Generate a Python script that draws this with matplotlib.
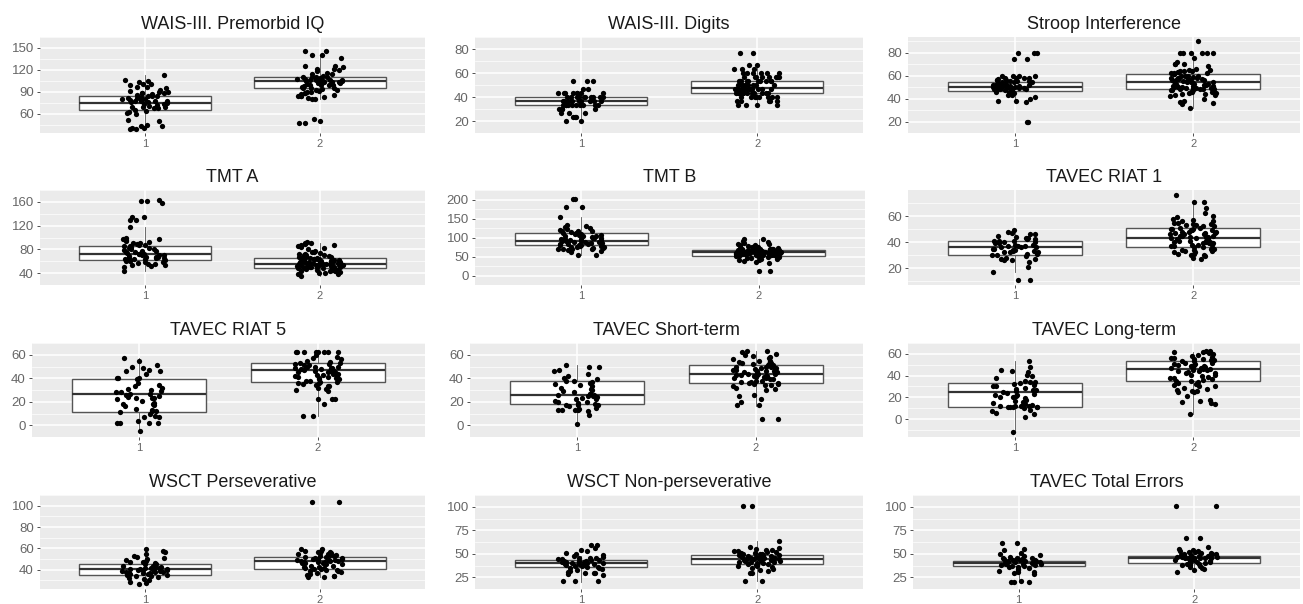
import matplotlib
matplotlib.use("Agg")
import matplotlib.pyplot as plt
import numpy as np

plt.rcParams["font.family"] = ["Liberation Sans", "DejaVu Sans"]

titles = ["WAIS-III. Premorbid IQ", "WAIS-III. Digits", "Stroop Interference",
          "TMT A", "TMT B", "TAVEC RIAT 1",
          "TAVEC RIAT 5", "TAVEC Short-term", "TAVEC Long-term",
          "WSCT Perseverative", "WSCT Non-perseverative", "TAVEC Total Errors"]
groups = ["1", "2"]

# points per group
iq_1 = [113, 106, 105, 104, 101, 101, 100, 97, 97, 95, 92, 91, 90, 90, 89, 88, 88, 87, 86, 85, 85, 84,
        83, 82, 82, 81, 80, 79, 79, 78, 78, 77, 77, 76, 76, 75, 74, 73, 72, 71, 70, 70, 69, 68, 68, 66,
        64, 62, 61, 60, 52, 51, 45, 44, 43, 41, 41, 40, 40]
iq_2 = [146, 146, 141, 140, 136, 125, 125, 124, 122, 121, 120, 118, 116, 115, 114, 112, 111, 110, 110,
        110, 109, 108, 108, 108, 107, 106, 106, 106, 105, 105, 105, 104, 104, 103, 103, 102, 102, 101,
        100, 100, 100, 99, 98, 97, 96, 95, 95, 94, 93, 92, 91, 90, 90, 89, 88, 87, 86, 85, 85, 84, 83,
        82, 81, 80, 53, 50, 48, 47]
dig_1 = [53.3, 53.3, 53.3, 46.7, 46.7] + [43.3] * 8 + [40] * 10 + [36.7] * 10 + [33.3] * 10 + \
        [30] * 4 + [26.7] * 3 + [23.3] * 3 + [20] * 2
dig_2 = [76.7, 76.7, 66.7, 66.7, 63.3, 63.3, 63.3] + [60] * 6 + [56.7] * 8 + [53.3] * 10 + [50] * 8 + \
        [46.7] * 12 + [43.3] * 12 + [40] * 8 + [36.7] * 5 + [33.3] * 4
str_1 = [80, 80, 80, 74, 74, 60, 60, 60, 60, 58, 58, 58, 58, 57, 56, 56, 56, 55, 55, 55, 54, 54, 54,
         53, 53, 53, 52, 52, 52, 52, 51, 51, 51, 51, 50, 50, 50, 50, 50, 49, 49, 49, 49, 48, 48, 48,
         47, 47, 47, 46, 46, 45, 43, 43, 41, 40, 38, 38, 37, 20, 20]
str_2 = [90, 80, 80, 80, 80, 80, 80, 75, 72, 70, 70, 70, 68, 66, 65, 65, 64, 64, 64, 63, 63, 62, 62,
         62, 61, 61, 60, 60, 60, 60, 59, 59, 58, 58, 58, 58, 57, 57, 57, 56, 56, 56, 55, 55, 55, 55,
         54, 54, 54, 54, 53, 53, 53, 52, 52, 52, 51, 51, 51, 51, 50, 50, 50, 50, 49, 49, 49, 49, 48,
         48, 48, 48, 47, 47, 47, 46, 46, 46, 45, 45, 44, 44, 43, 43, 42, 40, 38, 37, 36, 35, 32]
tmta_1 = [163, 162, 161, 158, 134, 134, 130, 129, 118, 99, 98, 97, 96, 94, 92, 91, 90, 89, 88, 87,
          86, 85, 84, 83, 82, 81, 80, 79, 78, 77, 76, 75, 74, 73, 73, 72, 71, 70, 70, 69, 68, 67, 67,
          66, 66, 65, 64, 64, 63, 62, 61, 60, 59, 58, 57, 56, 55, 54, 53, 52, 50, 43]
tmta_2 = [92, 91, 90, 89, 88, 87, 86, 85, 84, 82, 80, 78, 76, 75, 74, 73, 72, 71, 70, 70, 69, 68, 67,
          67, 66, 66, 65, 65, 64, 64, 63, 63, 62, 62, 62, 61, 61, 61, 60, 60, 60, 59, 59, 59, 58, 58,
          58, 57, 57, 57, 56, 56, 56, 56, 55, 55, 55, 55, 54, 54, 54, 54, 53, 53, 53, 53, 52, 52, 52,
          51, 51, 51, 50, 50, 50, 49, 49, 49, 48, 48, 48, 47, 47, 46, 46, 45, 45, 44, 44, 43, 42, 41,
          40, 39, 38, 36]
tmtb_1 = [202, 202, 180, 180, 153, 133, 130, 127, 125, 123, 120, 118, 117, 116, 115, 113, 112, 110,
          108, 107, 106, 105, 104, 103, 102, 100, 99, 98, 97, 96, 95, 94, 93, 92, 91, 90, 89, 88, 87,
          86, 85, 84, 83, 82, 81, 80, 79, 78, 77, 76, 75, 74, 73, 72, 71, 70, 70, 69, 67, 65, 63, 55, 53]
tmtb_2 = [97, 96, 90, 88, 85, 84, 82, 80, 79, 78, 77, 76, 75, 74, 73, 72, 71, 70, 70, 69, 69, 68, 68,
          67, 67, 66, 66, 66, 65, 65, 65, 64, 64, 64, 63, 63, 63, 63, 62, 62, 62, 62, 61, 61, 61, 61,
          60, 60, 60, 60, 60, 59, 59, 59, 59, 58, 58, 58, 58, 57, 57, 57, 57, 56, 56, 56, 55, 55, 55,
          54, 54, 54, 53, 53, 53, 52, 52, 51, 51, 50, 50, 49, 48, 47, 46, 45, 44, 43, 42, 40, 38, 35,
          34, 13, 13]
r1_1 = [49, 48, 47, 46, 46, 45, 44, 43, 43, 42, 42, 41, 41, 41, 40, 40, 39, 39, 38, 38, 37, 37, 37,
        36, 36, 36, 35, 35, 34, 34, 33, 33, 32, 32, 32, 31, 31, 30, 30, 29, 28, 27, 27, 26, 26, 25,
        21, 17, 11, 11]
r1_2 = [76, 71, 71, 66, 62, 60, 59, 58, 57, 56, 56, 55, 55, 54, 54, 53, 53, 52, 52, 51, 51, 50, 50,
        50, 49, 49, 49, 48, 48, 48, 47, 47, 47, 46, 46, 46, 45, 45, 45, 44, 44, 44, 43, 43, 43, 42,
        42, 42, 41, 41, 41, 40, 40, 40, 39, 39, 39, 38, 38, 38, 37, 37, 36, 36, 35, 35, 34, 34, 33,
        33, 32, 32, 31, 31, 30, 30, 29, 28, 27]
r5_1 = [57, 55, 51, 50, 49, 47, 46, 46, 44, 40, 40, 40, 39, 36, 34, 33, 32, 31, 30, 29, 28, 28, 27,
        27, 26, 25, 24, 23, 23, 23, 22, 21, 19, 18, 18, 17, 16, 14, 13, 12, 12, 11, 10, 8, 7, 7, 4,
        2, 2, 2, 2, -5]
r5_2 = [62] * 8 + [60, 58, 57, 56, 55, 54, 53, 53, 52, 52, 51, 51, 50, 50, 50, 49, 49, 49, 48, 48,
                   48, 47, 47, 47, 46, 46, 46, 45, 45, 45, 44, 44, 43, 43, 42, 42, 41, 41, 40, 40,
                   39, 39, 38, 38, 37, 37, 36, 36, 35, 34, 33, 33, 32, 31, 30, 29, 22, 22, 22, 18,
                   8, 8]
st_1 = [51, 50, 50, 47, 46, 44, 42, 40, 39, 38, 38, 37, 36, 35, 34, 33, 32, 31, 30, 29, 28, 27, 27,
        26, 26, 25, 25, 24, 23, 22, 22, 21, 20, 20, 19, 18, 17, 17, 17, 16, 15, 14, 13, 13, 13, 13,
        12, 9, 1]
st_2 = [63, 63, 62, 61, 60, 59, 58, 57, 56, 55, 55, 54, 54, 53, 53, 52, 52, 51, 51, 50, 50, 50, 49,
        49, 48, 48, 47, 47, 46, 46, 46, 45, 45, 45, 44, 44, 44, 43, 43, 43, 42, 42, 42, 41, 41, 40,
        40, 39, 39, 38, 38, 37, 37, 36, 36, 35, 35, 34, 34, 33, 32, 31, 30, 26, 25, 22, 20, 17, 17, 5, 5]
lt_1 = [53, 48, 45, 44, 43, 41, 40, 38, 35, 34, 34, 33, 32, 31, 30, 30, 29, 28, 27, 27, 26, 25, 24,
        23, 22, 22, 21, 20, 20, 19, 18, 17, 16, 15, 14, 13, 12, 12, 12, 12, 11, 11, 11, 11, 11, 10,
        8, 7, 6, 5, 2, -12]
lt_2 = [63, 63, 62, 62, 61, 60, 59, 58, 57, 56, 56, 55, 55, 54, 54, 53, 53, 52, 52, 51, 51, 50, 50,
        49, 49, 48, 48, 47, 47, 46, 46, 45, 45, 44, 44, 43, 42, 42, 41, 41, 40, 39, 38, 38, 37, 36,
        35, 35, 34, 33, 32, 31, 30, 30, 29, 28, 27, 26, 26, 25, 25, 21, 18, 17, 16, 15, 14, 5]
wp_1 = [59, 58, 57, 55, 53, 52, 51, 50, 49, 48, 47, 47, 46, 45, 45, 44, 44, 43, 43, 42, 42, 42, 41,
        41, 41, 40, 40, 40, 39, 39, 39, 38, 38, 38, 37, 37, 37, 36, 36, 35, 35, 34, 34, 33, 32, 31,
        30, 29, 28, 27]
wp_2 = [103, 103, 59, 59, 58, 58, 57, 57, 56, 56, 55, 55, 54, 54, 53, 53, 52, 52, 51, 51, 50, 50,
        50, 49, 49, 49, 48, 48, 48, 47, 47, 47, 46, 46, 46, 45, 45, 44, 44, 43, 43, 42, 42, 41, 41,
        40, 40, 39, 39, 38, 37, 36, 35, 34, 34, 33, 33]
wn_1 = [59, 59, 56, 54, 53, 51, 50, 49, 48, 47, 46, 45, 45, 44, 44, 43, 43, 42, 42, 42, 41, 41, 41,
        40, 40, 40, 39, 39, 39, 38, 38, 37, 37, 36, 36, 35, 35, 34, 33, 32, 31, 30, 30, 29, 28, 27,
        21, 21, 21]
wn_2 = [101, 101, 64, 57, 56, 55, 54, 54, 53, 53, 52, 52, 51, 51, 50, 50, 50, 49, 49, 49, 48, 48,
        48, 47, 47, 47, 46, 46, 46, 45, 45, 45, 44, 44, 44, 43, 43, 43, 42, 42, 42, 41, 41, 41, 40,
        40, 39, 39, 38, 38, 37, 37, 36, 35, 34, 33, 32, 30, 29, 21, 21]
te_1 = [61, 61, 55, 54, 51, 50, 49, 48, 47, 46, 45, 45, 44, 44, 43, 43, 43, 42, 42, 42, 41, 41, 41,
        40, 40, 40, 39, 39, 39, 38, 38, 37, 37, 36, 36, 35, 34, 33, 32, 31, 31, 30, 28, 21, 20, 20, 20]
te_2 = [101, 101, 67, 67, 57, 55, 54, 53, 53, 52, 52, 51, 51, 50, 50, 50, 49, 49, 49, 48, 48, 48,
        47, 47, 47, 46, 46, 46, 45, 45, 45, 44, 44, 43, 43, 42, 42, 41, 41, 40, 40, 39, 39, 38, 38,
        37, 36, 35, 34, 33, 31]

points = [(iq_1, iq_2), (dig_1, dig_2), (str_1, str_2),
          (tmta_1, tmta_2), (tmtb_1, tmtb_2), (r1_1, r1_2),
          (r5_1, r5_2), (st_1, st_2), (lt_1, lt_2),
          (wp_1, wp_2), (wn_1, wn_2), (te_1, te_2)]

# box stats: (whislo, q1, med, q3, whishi)
boxes = [((40, 65, 75, 85, 113), (80, 95, 105, 110, 140)),
         ((20, 33, 37, 40, 47), (33, 43, 47.5, 53, 67)),
         ((38, 46.5, 50.3, 54, 60), (32, 48, 54, 61.5, 80)),
         ((43, 62.7, 73, 86, 118), (36, 49.4, 55, 65.7, 90)),
         ((55, 80, 91, 113, 153), (35, 52, 61, 68, 95)),
         ((17, 30.2, 36.3, 41, 48), (27, 36.5, 43.4, 50.6, 70)),
         ((-5, 11.7, 26.8, 39, 57), (8, 36.8, 46.7, 52.7, 62)),
         ((0, 18, 26, 37.7, 51), (16, 35.7, 43.6, 51, 63)),
         ((-12, 11.2, 24.8, 33, 53), (5, 34.6, 46, 53.5, 62)),
         ((27, 35.2, 40.4, 45.2, 58), (33, 41, 48.2, 52.4, 60)),
         ((20, 36.2, 40.3, 43, 48), (21, 39.4, 44.7, 48.9, 64)),
         ((20, 37.2, 40, 42.3, 50), (31, 40.4, 45.8, 47.8, 55))]

yticks = [[60, 90, 120, 150], [20, 40, 60, 80], [20, 40, 60, 80],
          [40, 80, 120, 160], [0, 50, 100, 150, 200], [20, 40, 60],
          [0, 20, 40, 60], [0, 20, 40, 60], [0, 20, 40, 60],
          [40, 60, 80, 100], [25, 50, 75, 100], [25, 50, 75, 100]]
ylims = [(34, 152), (16.5, 80.5), (16.5, 93.5),
         (29, 170), (-4, 214), (7, 80),
         (-8, 66.5), (-3, 67.5), (-16.5, 67.5),
         (22, 108), (15, 106), (14, 106)]

# panel placement in pixels
W, H = 1303, 604
lefts = [40, 475, 908, 40, 475, 908, 32, 470, 908, 40, 475, 913]
rights = [425, 863, 1300, 425, 865, 1300, 425, 863, 1300, 425, 863, 1300]
tops = [37, 190, 343, 495]
bottoms = [133, 285, 437, 589]

fig = plt.figure(figsize=(W / 100, H / 100), dpi=100)
fig.patch.set_facecolor("white")

for i, title in enumerate(titles):
    r = i // 3
    l, rr = lefts[i], rights[i]
    t, b = tops[r], bottoms[r]
    ax = fig.add_axes([l / W, 1 - b / H, (rr - l) / W, (b - t) / H])
    ax.set_facecolor("#EBEBEB")
    for s in ax.spines.values():
        s.set_visible(False)

    stats = []
    for (lo, q1, med, q3, hi) in boxes[i]:
        stats.append(dict(whislo=lo, q1=q1, med=med, q3=q3, whishi=hi, fliers=[]))
    ax.bxp(stats, positions=[1, 2], widths=0.75, showcaps=False, showfliers=False,
           patch_artist=True,
           boxprops=dict(facecolor="white", edgecolor="#555555", linewidth=1.0),
           medianprops=dict(color="#333333", linewidth=1.6),
           whiskerprops=dict(color="#555555", linewidth=0.6),
           zorder=2)

    # horizontal jitter like geom_jitter (deterministic hash of the index)
    for g, vals in enumerate(points[i]):
        vals = np.asarray(vals, dtype=float)
        k = np.arange(len(vals)) + 1.0 + 17 * i + 5 * g
        h = np.sin(k * 12.9898) * 43758.5453
        offs = ((h - np.floor(h)) - 0.5) * 0.26
        ax.plot(g + 1 + offs, vals, "o", color="black", markersize=3.8,
                markeredgewidth=0, zorder=3)

    ax.set_xlim(0.4, 2.6)
    ax.set_ylim(*ylims[i])
    major = yticks[i]
    step = major[1] - major[0]
    minor = [v + step / 2 for v in [major[0] - step] + major]
    ax.set_yticks(major)
    ax.set_yticks(minor, minor=True)
    ax.set_xticks([1, 2])
    ax.set_xticklabels(groups)
    ax.grid(True, which="major", color="white", linewidth=1.1, zorder=0)
    ax.grid(True, which="minor", axis="y", color="white", linewidth=0.5, zorder=0)
    ax.set_axisbelow(True)
    ax.tick_params(axis="y", which="major", length=2.5, width=0.6, color="#333333",
                   labelcolor="#666666", labelsize=9.5, pad=2)
    ax.tick_params(axis="x", which="major", length=2.5, width=0.6, color="#333333",
                   labelcolor="#666666", labelsize=8, pad=2)
    ax.tick_params(axis="y", which="minor", length=0)
    ax.set_title(title, fontsize=13, color="#1A1A1A", pad=6)

fig.savefig("out.png", dpi=100, facecolor="white")
